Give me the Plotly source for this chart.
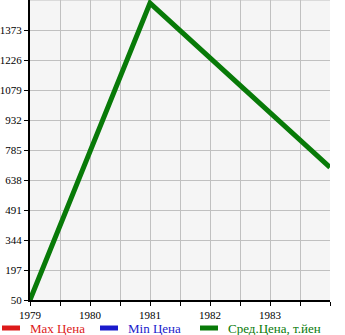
import plotly.graph_objects as go

years = [1979, 1981, 1984]
avg_price = [50, 1505, 700]
y_ticks = [50, 197, 344, 491, 638, 785, 932, 1079, 1226, 1373]
x_ticks = [1979, 1980, 1981, 1982, 1983]
legend_names = ["Max Цена", "Min Цена", "Сред.Цена, т.йен"]
legend_colors = ["#dd1a1a", "#1a1acc", "#087a08"]

W, H = 345, 335
ML, MR, MT, MB = 30, 15, 0, 35
PW, PH = W - ML - MR, H - MT - MB

def px_to_paper(xpx, ypx):
    return (xpx - ML) / PW, (PH + MT - ypx) / PH

fig = go.Figure()
for name, col in zip(legend_names[:2], legend_colors[:2]):
    fig.add_trace(go.Scatter(x=[None], y=[None], mode="lines", name=name,
                             line=dict(color=col, width=5)))
fig.add_trace(go.Scatter(x=years, y=avg_price, mode="lines", name=legend_names[2],
                         line=dict(color=legend_colors[2], width=5)))

# manual legend (one row, like the reference)
swatch_x = [0, 98, 198]
for sx, name, col in zip(swatch_x, legend_names, legend_colors):
    x0, y0 = px_to_paper(sx + 2, 328)
    x1, _ = px_to_paper(sx + 20, 328)
    fig.add_shape(type="line", xref="paper", yref="paper", x0=x0, x1=x1, y0=y0, y1=y0,
                  line=dict(color=col, width=5))
    tx, ty = px_to_paper(sx + 29, 328)
    fig.add_annotation(xref="paper", yref="paper", x=tx, y=ty, text=name,
                       showarrow=False, xanchor="left", yanchor="middle",
                       font=dict(family="Liberation Serif", size=13, color=col),
                       borderpad=0)

fig.update_layout(
    width=W, height=H,
    margin=dict(l=ML, r=MR, t=MT, b=MB, autoexpand=False),
    paper_bgcolor="#ffffff", plot_bgcolor="#f5f5f5",
    font=dict(family="Liberation Serif", size=12, color="#000000"),
    showlegend=False,
    xaxis=dict(range=[1979, 1984], tickvals=x_ticks, ticks="outside", ticklen=4,
               tickcolor="#000", showline=True, linecolor="#000", linewidth=2,
               gridcolor="#c0c0c0", gridwidth=1, zeroline=False, automargin=False,
               minor=dict(dtick=0.5, tick0=1979, ticks="outside", ticklen=4,
                          tickcolor="#000", showgrid=True, gridcolor="#c0c0c0"),
               tickfont=dict(family="Liberation Serif", size=11)),
    yaxis=dict(range=[50, 1520], tickvals=y_ticks, ticks="outside", ticklen=4,
               tickcolor="#000", showline=True, linecolor="#000", linewidth=2,
               gridcolor="#c0c0c0", gridwidth=1, zeroline=False, automargin=False,
               tickfont=dict(family="Liberation Serif", size=11)),
)
fig.add_shape(type="line", xref="x", yref="y", x0=1979, x1=1984, y0=1520, y1=1520,
              line=dict(color="#c0c0c0", width=1), layer="below")
fig.write_html("out.html")
